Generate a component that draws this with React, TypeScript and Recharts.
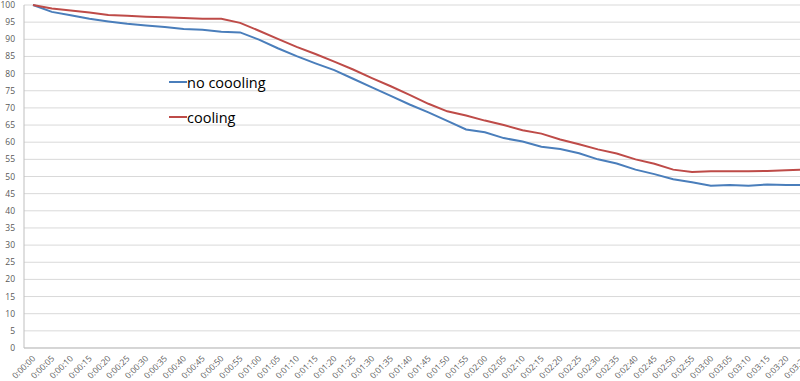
import React from "react";
import { LineChart, Line, XAxis, YAxis, CartesianGrid } from "recharts";

const times = [
  "0:00:00", "0:00:05", "0:00:10", "0:00:15", "0:00:20", "0:00:25", "0:00:30",
  "0:00:35", "0:00:40", "0:00:45", "0:00:50", "0:00:55", "0:01:00", "0:01:05",
  "0:01:10", "0:01:15", "0:01:20", "0:01:25", "0:01:30", "0:01:35", "0:01:40",
  "0:01:45", "0:01:50", "0:01:55", "0:02:00", "0:02:05", "0:02:10", "0:02:15",
  "0:02:20", "0:02:25", "0:02:30", "0:02:35", "0:02:40", "0:02:45", "0:02:50",
  "0:02:55", "0:03:00", "0:03:05", "0:03:10", "0:03:15", "0:03:20", "0:03:25",
];

const noCooling = [
  100, 98, 97, 96, 95.2, 94.5, 94, 93.6, 93, 92.8, 92.2, 92, 89.9, 87.4,
  85.1, 83, 81, 78.5, 76, 73.5, 71, 68.7, 66.2, 63.7, 62.9, 61.2, 60.2, 58.7,
  58, 56.8, 55, 53.8, 52, 50.7, 49.2, 48.3, 47.3, 47.5, 47.3, 47.7, 47.5, 47.5,
];

const cooling = [
  100, 99, 98.4, 97.8, 97.1, 96.9, 96.6, 96.4, 96.2, 96, 96, 94.8, 92.5, 90.1,
  87.8, 85.7, 83.5, 81.2, 78.7, 76.3, 73.8, 71.2, 69, 67.8, 66.3, 65, 63.5, 62.5,
  60.8, 59.4, 57.9, 56.7, 55, 53.7, 52, 51.3, 51.5, 51.5, 51.5, 51.6, 51.8, 52,
];

const yTicks = [0, 5, 10, 15, 20, 25, 30, 35, 40, 45, 50, 55, 60, 65, 70, 75, 80, 85, 90, 95, 100];

const data = times.map((t, i) => ({ time: t, noCooling: noCooling[i], cooling: cooling[i] }));

const BLUE = "#4a7ebb";
const RED = "#be4b48";

const XTick = ({ x, y, payload }: any) => {
  const tx = x + 3;
  const ty = y + 3;
  return (
    <text
      x={tx}
      y={ty}
      transform={`rotate(-45, ${tx}, ${ty})`}
      textAnchor="end"
      fontSize={8.5}
      fill="#595959"
      fontFamily="Open Sans, sans-serif"
    >
      {payload.value}
    </text>
  );
};

const legendItems = [
  { name: "no coooling", color: BLUE },
  { name: "cooling", color: RED },
];

export default function App() {
  return (
    <div style={{ position: "absolute", left: 0, top: 0, width: 800, height: 381, overflow: "hidden", background: "#fff" }}>
      <LineChart width={820} height={381} data={data} margin={{ top: 5, right: 6, left: 1, bottom: 0 }}>
        <CartesianGrid vertical={false} stroke="#d9d9d9" />
        <XAxis
          dataKey="time"
          height={33}
          interval={0}
          tick={<XTick />}
          tickLine={false}
          axisLine={{ stroke: "#bfbfbf" }}
          padding={{ left: 9, right: 9 }}
        />
        <YAxis
          width={23}
          domain={[0, 100]}
          ticks={yTicks}
          interval={0}
          tickLine={false}
          axisLine={{ stroke: "#bfbfbf" }}
          tick={{ fontSize: 8.5, fill: "#595959", fontFamily: "Open Sans, sans-serif" }}
          tickMargin={3}
        />
        <Line dataKey="noCooling" name="no coooling" stroke={BLUE} strokeWidth={2} dot={false} isAnimationActive={false} />
        <Line dataKey="cooling" name="cooling" stroke={RED} strokeWidth={2} dot={false} isAnimationActive={false} />
      </LineChart>
      <div style={{ position: "absolute", left: 169, top: 72, fontFamily: "Open Sans, sans-serif", fontSize: 14.5, color: "#000" }}>
        {legendItems.map((it) => (
          <div key={it.name} style={{ display: "flex", alignItems: "center", height: 20, marginBottom: 15 }}>
            <span style={{ display: "inline-block", width: 18, height: 2, background: it.color }} />
            <span>{it.name}</span>
          </div>
        ))}
      </div>
    </div>
  );
}
